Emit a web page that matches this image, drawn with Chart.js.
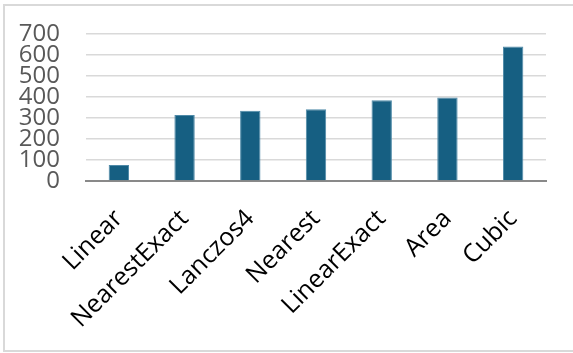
<!DOCTYPE html>
<html>
<head>
<meta charset="utf-8">
<script src="https://cdn.jsdelivr.net/npm/chart.js@4"></script>
<style>
  html, body { margin: 0; padding: 0; background: #fff; }
  #wrap { position: relative; width: 573px; height: 353px; overflow: hidden; }
  #frame { position: absolute; left: 3px; top: 4px; width: 580px; height: 348px; border: 2px solid #d9d9d9; box-sizing: border-box; }
  canvas { position: absolute; left: 0; top: 0; }
</style>
</head>
<body>
<div id="wrap">
  <div id="frame"></div>
  <canvas id="chart" width="573" height="353"></canvas>
</div>
<script>
const categories = ["Linear", "NearestExact", "Lanczos4", "Nearest", "LinearExact", "Area", "Cubic"];
const values = [76, 314, 334, 342, 385, 398, 640];
const yTicks = [0, 100, 200, 300, 400, 500, 600, 700];

new Chart(document.getElementById("chart"), {
    type: 'bar',
    data: {
        labels: categories,
        datasets: [{
            data: values,
            backgroundColor: "#165f82",
            borderColor: "#4f8aa8",
            borderWidth: { left: 1, right: 1, top: 1, bottom: 0 },
            barPercentage: 0.31,
            categoryPercentage: 1
        }]
    },
    options: {
        responsive: false,
        animation: false,
        layout: { padding: { top: 34, right: 27, left: 0, bottom: 0 } },
        plugins: { legend: { display: false }, tooltip: { enabled: false } },
        scales: {
            x: {
                grid: { display: false, drawTicks: false },
                border: { color: "#898989", width: 2 },
                ticks: {
                    color: "#000",
                    font: { family: "Open Sans", size: 25 },
                    maxRotation: 45,
                    minRotation: 45,
                    padding: 23
                },
                afterFit: (scale) => { scale.height = 172; }
            },
            y: {
                min: 0,
                max: 700,
                afterBuildTicks: (scale) => { scale.ticks = yTicks.map(v => ({ value: v })); },
                grid: { color: "#d9d9d9", lineWidth: 1.5, drawTicks: false },
                border: { display: false },
                ticks: {
                    color: "#595959",
                    font: { family: "Open Sans", size: 24 },
                    padding: 26,
                    autoSkip: false
                },
                afterFit: (scale) => {
                    scale.width = 86;
                    scale.paddingTop = 0;
                    scale.paddingBottom = 0;
                }
            }
        }
    }
});
</script>
</body>
</html>
